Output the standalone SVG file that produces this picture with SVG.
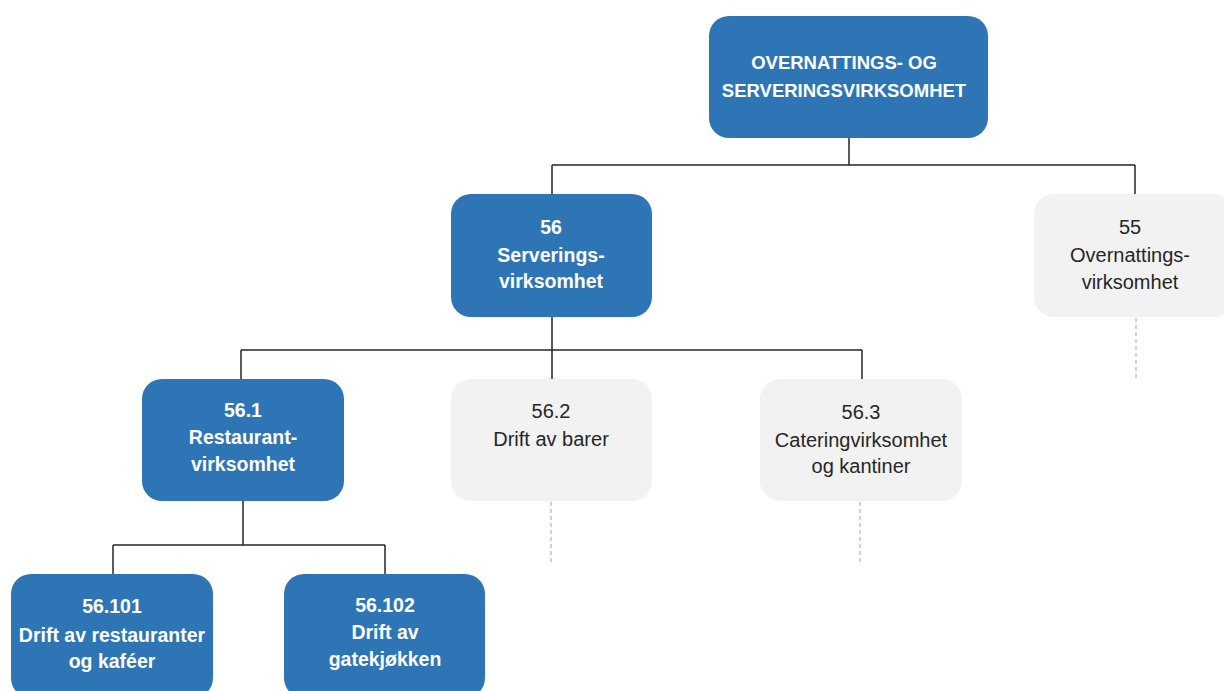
<svg xmlns="http://www.w3.org/2000/svg" width="1224" height="691" viewBox="0 0 1224 691">
<style>
.blue{fill:#2E75B6}
.gray{fill:#F2F2F2}
.bt{font-family:"Liberation Sans",Arial,sans-serif;font-weight:bold;font-size:19.5px;fill:#FFFFFF;text-anchor:middle}
.top{font-size:18.5px}
.gt{font-family:"Liberation Sans",Arial,sans-serif;font-size:20px;fill:#262626;text-anchor:middle}
.ln{fill:none;stroke:#262626;stroke-width:1.5}
.dl{fill:none;stroke:#A6A6A6;stroke-width:1;stroke-dasharray:4 3}
</style>
<rect width="1224" height="691" fill="#FFFFFF"/>
<g id="connectors">
<path class="ln" d="M849 138V165M552 165H1135M552 165V194M1135 165V194"/>
<path class="ln" d="M552 317V350M241 350H862M241 350V379M552 350V379M862 350V379"/>
<path class="ln" d="M243 501V545M113 545H385M113 545V574M385 545V574"/>
<path class="dl" d="M1136 318V378M551 502V565M860 502V563"/>
</g>
<g id="root">
<rect class="blue" x="709" y="16" width="279" height="122" rx="20"/>
<text class="bt top" x="844" y="69">OVERNATTINGS- OG</text>
<text class="bt top" x="844" y="97">SERVERINGSVIRKSOMHET</text>
</g>
<g id="n56">
<rect class="blue" x="451" y="194" width="201" height="123" rx="20"/>
<text class="bt" x="551" y="234">56</text>
<text class="bt" x="551" y="262">Serverings-</text>
<text class="bt" x="551" y="288">virksomhet</text>
</g>
<g id="n55">
<rect class="gray" x="1034" y="194" width="200" height="123" rx="20"/>
<text class="gt" x="1130" y="234">55</text>
<text class="gt" x="1130" y="262">Overnattings-</text>
<text class="gt" x="1130" y="289">virksomhet</text>
</g>
<g id="n561">
<rect class="blue" x="142" y="379" width="202" height="122" rx="20"/>
<text class="bt" x="243" y="417">56.1</text>
<text class="bt" x="243" y="444">Restaurant-</text>
<text class="bt" x="243" y="471">virksomhet</text>
</g>
<g id="n562">
<rect class="gray" x="451" y="379" width="201" height="122" rx="20"/>
<text class="gt" x="551" y="418">56.2</text>
<text class="gt" x="551" y="446">Drift av barer</text>
</g>
<g id="n563">
<rect class="gray" x="760" y="379" width="202" height="122" rx="20"/>
<text class="gt" x="861" y="419">56.3</text>
<text class="gt" x="861" y="447">Cateringvirksomhet</text>
<text class="gt" x="861" y="473">og kantiner</text>
</g>
<g id="n56101">
<rect class="blue" x="11" y="574" width="202" height="124" rx="20"/>
<text class="bt" x="112" y="613">56.101</text>
<text class="bt" x="112" y="642">Drift av restauranter</text>
<text class="bt" x="112" y="668">og kaféer</text>
</g>
<g id="n56102">
<rect class="blue" x="284" y="574" width="201" height="124" rx="20"/>
<text class="bt" x="385" y="612">56.102</text>
<text class="bt" x="385" y="639">Drift av</text>
<text class="bt" x="385" y="666">gatekjøkken</text>
</g>
</svg>
